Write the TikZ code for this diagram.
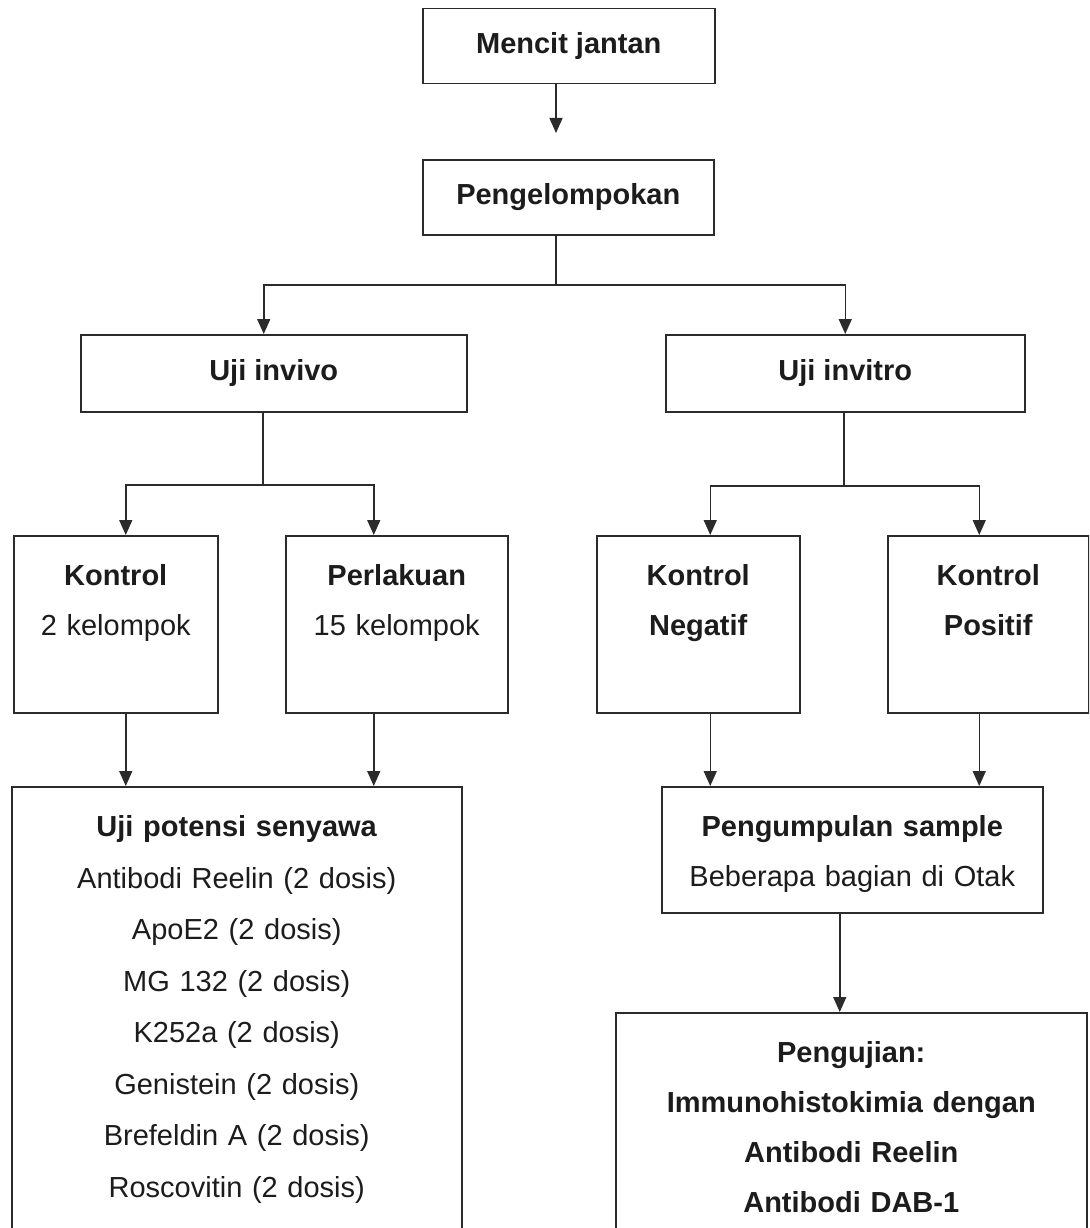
\documentclass[tikz,border=0pt]{standalone}
\usepackage{fontspec}
\setmainfont{Liberation Sans}
\definecolor{fcLine}{HTML}{2B2B2B}
\definecolor{fcText}{HTML}{1C1C1C}
\usetikzlibrary{arrows.meta}
\newcommand{\padtop}{\rule{0pt}{50pt}}
\newcommand{\padbot}[1]{\rule[-#1]{0pt}{#1}}

\begin{document}
\begin{tikzpicture}[x=1pt, y=-1pt,
  stage/.style={draw=fcLine, line width=1.5pt, text=fcText, anchor=north west,
    inner sep=0pt, minimum height=75pt, font=\bfseries\fontsize{29}{50}\selectfont},
  tall/.style={draw=fcLine, line width=1.5pt, text=fcText, anchor=north west,
    inner sep=0pt, align=center, font=\fontsize{29}{50}\selectfont},
  arr/.style={-{Triangle[length=15pt,width=13pt]}, line width=1.5pt, draw=fcLine},
  link/.style={line width=1.5pt, draw=fcLine}
]
  \useasboundingbox (0,0) rectangle (1089,1228);
  \clip (0,0) rectangle (1089,1228);

  \node[stage, minimum width=292pt] (mencit) at (422,8) {Mencit jantan};
  \node[stage, minimum width=291pt] (grp) at (422,159) {Pengelompokan};
  \node[stage, minimum width=386pt, minimum height=77pt] (invivo) at (80,334) {Uji invivo};
  \node[stage, minimum width=359pt, minimum height=77pt] (invitro) at (665,334) {Uji invitro};

  \node[tall, text width=204pt] (kontrol) at (13,535) {
    \padtop\textbf{Kontrol}\\2 kelompok\padbot{77pt}};
  \node[tall, text width=222pt] (perlakuan) at (285,535) {
    \padtop\textbf{Perlakuan}\\15 kelompok\padbot{77pt}};
  \node[tall, text width=203pt] (negatif) at (596,535) {
    \padtop\textbf{Kontrol}\\\textbf{Negatif}\padbot{77pt}};
  \node[tall, text width=201pt] (positif) at (887,535) {
    \padtop\textbf{Kontrol}\\\textbf{Positif}\padbot{77pt}};

  \node[tall, text width=450pt, font=\fontsize{29}{51.5}\selectfont] (potensi) at (11,786) {
    \padtop\textbf{Uji potensi senyawa}\\
    Antibodi Reelin (2 dosis)\\
    ApoE2 (2 dosis)\\
    MG 132 (2 dosis)\\
    K252a (2 dosis)\\
    Genistein (2 dosis)\\
    Brefeldin A (2 dosis)\\
    Roscovitin (2 dosis)\padbot{64pt}};
  \node[tall, text width=381pt] (sample) at (661,786) {
    \padtop\textbf{Pengumpulan sample}\\Beberapa bagian di Otak\padbot{26pt}};
  \node[tall, text width=471pt, font=\bfseries\fontsize{29}{50}\selectfont] (uji) at (615,1012) {
    \padtop Pengujian:\\
    Immunohistokimia dengan\\
    Antibodi Reelin\\
    Antibodi DAB-1\padbot{40pt}};

  % branch points
  \coordinate (tip0) at (556,133);
  \coordinate (s0) at (556,285);
  \coordinate (s1) at (263,485);
  \coordinate (s2) at (844,486);

  \draw[arr] (tip0 |- mencit.south) -- (tip0);
  \draw[link] (s0 |- grp.south) -- (s0);
  \draw[arr] (s0) -| ([xshift=-10pt]invivo.north);
  \draw[arr] (s0) -| (invitro.north);

  \draw[link] (s1 |- invivo.south) -- (s1);
  \draw[arr] (s1) -| ([xshift=10pt]kontrol.north);
  \draw[arr] (s1) -| ([xshift=-23pt]perlakuan.north);
  \draw[link] (s2 |- invitro.south) -- (s2);
  \draw[arr] (s2) -| ([xshift=12pt]negatif.north);
  \draw[arr] (s2) -| ([xshift=-9pt]positif.north);

  \draw[arr] ([xshift=10pt]kontrol.south) -- ([xshift=10pt]kontrol.south |- potensi.north);
  \draw[arr] ([xshift=-23pt]perlakuan.south) -- ([xshift=-23pt]perlakuan.south |- potensi.north);
  \draw[arr] ([xshift=12pt]negatif.south) -- ([xshift=12pt]negatif.south |- sample.north);
  \draw[arr] ([xshift=-9pt]positif.south) -- ([xshift=-9pt]positif.south |- sample.north);
  \draw[arr] ([xshift=-12.5pt]sample.south) -- ([xshift=-12.5pt]sample.south |- uji.north);
\end{tikzpicture}
\end{document}
